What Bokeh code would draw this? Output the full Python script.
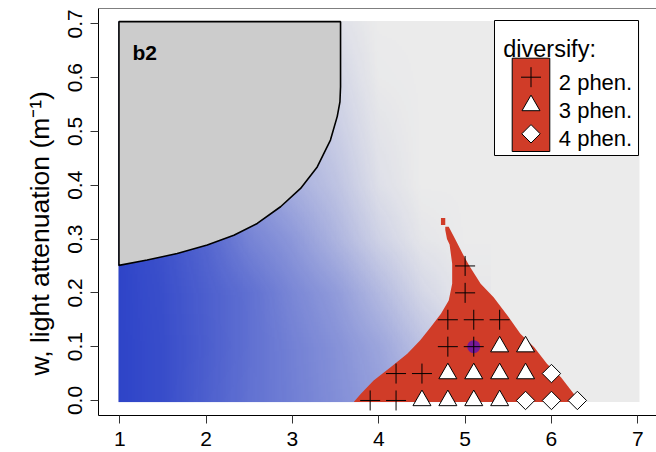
import numpy as np
from bokeh.plotting import figure
from bokeh.models import Range1d, FixedTicker, PrintfTickFormatter, Span, Title
from bokeh.embed import file_html
from bokeh.resources import INLINE
from bokeh.core.properties import value

# ---------------- data ----------------
x_ticks = [1, 2, 3, 4, 5, 6, 7]
y_ticks = [0.0, 0.1, 0.2, 0.3, 0.4, 0.5, 0.6, 0.7]
y_label = "w, light attenuation (m\u207b\u00b9)"

# extent of the computed parameter field
field_x = [0.985, 7.02]
field_y = [-0.003, 0.705]

# blue intensity (0 = background, 1 = full blue) read on a coarse grid
grad_x = [1.0, 1.5, 2.0, 2.5, 3.0, 3.5, 4.0, 4.5, 5.0]
grad_y = [0.0, 0.1, 0.2, 0.3, 0.4, 0.5, 0.6, 0.7]
grad_t = [
    [1.00, 0.95, 0.84, 0.73, 0.65, 0.56, 0.47, 0.35, 0.20],
    [1.00, 0.95, 0.85, 0.74, 0.64, 0.54, 0.42, 0.25, 0.10],
    [1.00, 0.94, 0.84, 0.74, 0.60, 0.48, 0.30, 0.12, 0.02],
    [1.00, 0.92, 0.80, 0.62, 0.50, 0.33, 0.15, 0.03, 0.00],
    [0.95, 0.85, 0.70, 0.52, 0.36, 0.24, 0.07, 0.00, 0.00],
    [0.85, 0.75, 0.60, 0.44, 0.30, 0.18, 0.04, 0.00, 0.00],
    [0.75, 0.65, 0.50, 0.36, 0.22, 0.13, 0.01, 0.00, 0.00],
    [0.65, 0.55, 0.42, 0.30, 0.16, 0.07, 0.00, 0.00, 0.00],
]

# region b2 (grey)
b2_x = [0.99, 0.99, 3.557, 3.557, 3.55, 3.519, 3.44, 3.287, 3.094, 2.862,
        2.592, 2.321, 2.013, 1.665, 1.317, 0.99]
b2_y = [0.251, 0.704, 0.704, 0.583, 0.555, 0.528, 0.484, 0.434, 0.394, 0.360,
        0.329, 0.307, 0.289, 0.273, 0.261, 0.251]

# diversification region (red)
red_x = [3.71, 6.32, 6.30, 6.26, 6.11, 5.95, 5.80, 5.64, 5.49, 5.33, 5.18,
         5.05, 4.97, 4.89, 4.81, 4.77, 4.77, 4.79, 4.82, 4.85, 4.85, 4.81,
         4.72, 4.60, 4.48, 4.33, 4.14, 3.94, 3.79]
red_y = [-0.003, -0.003, 0.005, 0.012, 0.043, 0.068, 0.099, 0.124, 0.158,
         0.192, 0.217, 0.250, 0.273, 0.298, 0.323, 0.323, 0.317, 0.300,
         0.290, 0.254, 0.217, 0.186, 0.161, 0.136, 0.112, 0.087, 0.062,
         0.037, 0.012]
red_bit_x = [4.72, 4.77]
red_bit_y = [0.326, 0.339]

# phenotype counts
p2_x = [3.9, 4.2, 4.2, 4.5, 4.8, 5.1, 4.8, 5.1, 5.4, 5.0, 5.0]
p2_y = [0.0, 0.0, 0.05, 0.05, 0.1, 0.1, 0.15, 0.15, 0.15, 0.2, 0.25]
p3_x = [4.5, 4.8, 5.1, 5.4, 4.8, 5.1, 5.4, 5.7, 5.4, 5.7]
p3_y = [0.0, 0.0, 0.0, 0.0, 0.05, 0.05, 0.05, 0.05, 0.1, 0.1]
p4_x = [5.7, 6.0, 6.3, 6.0]
p4_y = [0.0, 0.0, 0.0, 0.05]
focus_x = [5.1]
focus_y = [0.1]

legend_title = "diversify:"
legend_labels = ["2 phen.", "3 phen.", "4 phen."]
panel_label = "b2"

# ---------------- styles ----------------
BLUE = (46, 68, 200)
BG = "#ebebeb"
RED = "#d03c28"
PURPLE = "#761a98"
FONT = "Liberation Sans"

# ---------------- layout (page pixels) ----------------
W, H = 656, 452
FL, FT, FR, FB = 98, 8, 656, 415           # frame edges
PPX = 86.33                                 # px per x unit
PPY = 538.1                                 # px per y unit
x0 = 1 - (119.3 - FL) / PPX
x1 = x0 + (FR - FL) / PPX
y1 = 0.7 + (23.3 - FT) / PPY
y0 = y1 - (FB - FT) / PPY


def X(px):
    return x0 + (px - FL) / PPX


def Y(py):
    return y1 - (py - FT) / PPY


p = figure(width=W, height=H, x_range=Range1d(x0, x1), y_range=Range1d(y0, y1),
           output_backend="svg", toolbar_location=None,
           min_border_left=FL, min_border_right=W - FR,
           min_border_top=FT, min_border_bottom=H - FB)
p.outline_line_color = None
p.grid.visible = False
p.background_fill_color = "white"
p.border_fill_color = "white"

for ax in (p.xaxis[0], p.yaxis[0]):
    ax.major_tick_in = 0
    ax.major_tick_out = 8
    ax.minor_tick_in = 0
    ax.minor_tick_out = 0
    ax.axis_line_color = "black"
    ax.major_tick_line_color = "#333333"
    ax.major_label_text_font = FONT
    ax.major_label_text_font_size = "21px"
    ax.major_label_text_color = "black"
p.xaxis.ticker = FixedTicker(ticks=x_ticks)
p.yaxis.ticker = FixedTicker(ticks=y_ticks)
p.yaxis.formatter = PrintfTickFormatter(format="%.1f")
p.yaxis.major_label_orientation = "vertical"
p.yaxis.major_label_standoff = 8
p.xaxis.major_label_standoff = 8
p.add_layout(Span(location=y1, dimension="width", line_color="black", line_width=1))
p.add_layout(Title(text=y_label, align="left", offset=40, standoff=21,
                   text_font=FONT, text_font_size="26.5px", text_font_style="normal",
                   text_color="black"), "left")

# field background
p.quad(left=[field_x[0]], right=[field_x[1]], bottom=[field_y[0]], top=[field_y[1]],
       fill_color=BG, line_color=None)

# blue gradient: the read grid, smoothed bilinearly for display
t = np.array(grad_t, dtype=float)
gx = np.array(grad_x)
gy = np.array(grad_y)
img_x0, img_x1 = field_x[0], 5.3
nx, ny = 220, 200
cx = img_x0 + (np.arange(nx) + 0.5) * (img_x1 - img_x0) / nx
cy = field_y[0] + (np.arange(ny) + 0.5) * (field_y[1] - field_y[0]) / ny
rows = np.array([np.interp(cx, gx, t[i]) for i in range(t.shape[0])])
fine = np.array([np.interp(cy, gy, rows[:, j]) for j in range(nx)]).T
img = np.zeros((ny, nx), dtype=np.uint32)
view = img.view(dtype=np.uint8).reshape((ny, nx, 4))
view[..., 0] = BLUE[0]
view[..., 1] = BLUE[1]
view[..., 2] = BLUE[2]
view[..., 3] = np.round(np.clip(fine, 0, 1) * 255).astype(np.uint8)
p.image_rgba(image=[img], x=img_x0, y=field_y[0], dw=img_x1 - img_x0,
             dh=field_y[1] - field_y[0])

# region b2
p.patch(b2_x, b2_y, fill_color="#cccccc", line_color="black", line_width=1.6)

# red region
p.patch(red_x, red_y, fill_color=RED, line_color=None)
p.quad(left=[red_bit_x[0]], right=[red_bit_x[1]], bottom=[red_bit_y[0]], top=[red_bit_y[1]],
       fill_color=RED, line_color=None)

# markers
p.scatter(focus_x, focus_y, marker="circle", size=13, fill_color=PURPLE, line_color=None)
p.scatter(p2_x, p2_y, marker="cross", size=20, line_color="black", line_width=1)
p.scatter(p3_x, p3_y, marker="triangle", size=18, fill_color="white",
          line_color="black", line_width=1)
p.scatter(p4_x, p4_y, marker="square", angle=np.pi / 4, size=13, fill_color="white",
          line_color="black", line_width=1)

# panel label
p.text(x=[X(132)], y=[Y(52)], text=[panel_label], text_font=value(FONT),
       text_font_size=value("21px"), text_font_style="bold", text_color="black",
       text_baseline="alphabetic", text_align="left")

# legend
p.quad(left=[X(494)], right=[X(638)], top=[Y(20)], bottom=[Y(155)],
       fill_color="white", line_color="black", line_width=1)
p.quad(left=[X(511.7)], right=[X(549.3)], top=[Y(57.7)], bottom=[Y(151)],
       fill_color=RED, line_color="black", line_width=1)
lx = X(530.5)
p.scatter([lx], [Y(76.7)], marker="cross", size=20, line_color="black", line_width=1)
p.scatter([lx], [Y(105)], marker="triangle", size=18, fill_color="white",
          line_color="black", line_width=1)
p.scatter([lx], [Y(133.3)], marker="square", angle=np.pi / 4, size=13,
          fill_color="white", line_color="black", line_width=1)
p.text(x=[X(502.7)], y=[Y(48.3)], text=[legend_title], text_font=value(FONT),
       text_font_size=value("23.5px"), text_color="black",
       text_baseline="alphabetic", text_align="left")
p.text(x=[X(558.3)] * 3, y=[Y(81.7), Y(110), Y(138.3)],
       text=legend_labels, text_font=value(FONT),
       text_font_size=value("22px"), text_color="black",
       text_baseline="alphabetic", text_align="left")

open("out.html", "w").write(file_html(p, INLINE))
